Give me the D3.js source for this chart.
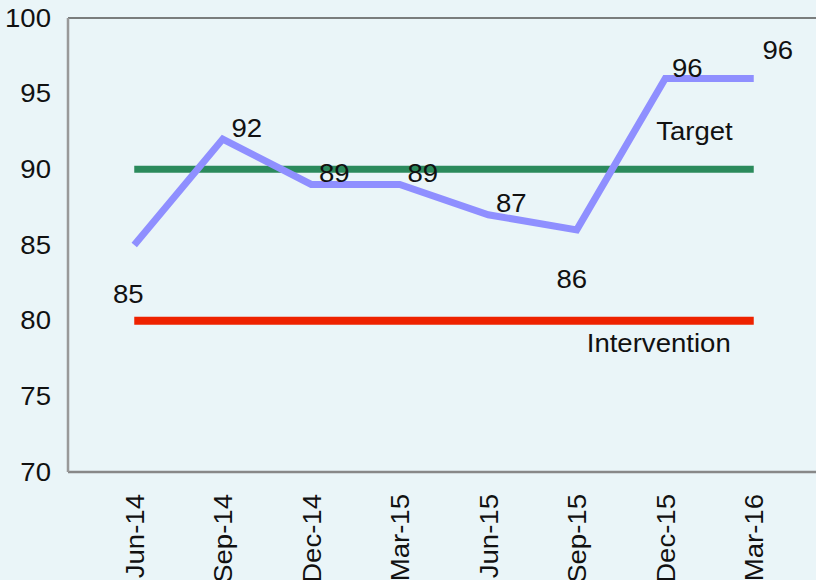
<!DOCTYPE html>
<html>
<head>
<meta charset="utf-8">
<script src="https://cdn.jsdelivr.net/npm/d3@7"></script>
<style>
  body { margin: 0; background: #eaf5f8; }
  svg { display: block; font-family: "Liberation Sans", Arial, sans-serif; }
</style>
</head>
<body>
<script>
// data
let quarters = ['Jun-14','Sep-14','Dec-14','Mar-15','Jun-15','Sep-15','Dec-15','Mar-16'];
let scores = [85, 92, 89, 89, 87, 86, 96, 96];
let targetValue = 90;
let interventionValue = 80;
let yTicks = [70, 75, 80, 85, 90, 95, 100];

// where each value label sits relative to its point (the source placed them by hand)
let labelOffsets = [[-6,58],[24,-2],[23,-2],[23,-2],[23,-3],[-5,58],[22,-2],[24,-20]];

let w = 816, h = 580;
let plotLeft = 68, plotTop = 18, plotBottom = 472;

let svg = d3.select('body')
    .append('svg')
    .attr('width', w)
    .attr('height', h)

svg.append('rect')
    .attr('width', w)
    .attr('height', h)
    .attr('fill', '#eaf5f8')

let x = d3.scalePoint()
    .domain(quarters)
    .range([90, 798])
    .padding(0.5)

let y = d3.scaleLinear()
    .domain([70, 100])
    .range([plotBottom, plotTop])

// frame
svg.append('line')
    .attr('x1', plotLeft).attr('x2', w)
    .attr('y1', plotTop).attr('y2', plotTop)
    .attr('stroke', '#555').attr('stroke-width', 1.5)

svg.append('line')
    .attr('x1', plotLeft).attr('x2', w)
    .attr('y1', plotBottom).attr('y2', plotBottom)
    .attr('stroke', '#888').attr('stroke-width', 2.5)

svg.append('line')
    .attr('x1', plotLeft).attr('x2', plotLeft)
    .attr('y1', plotTop).attr('y2', plotBottom)
    .attr('stroke', '#999').attr('stroke-width', 2.5)

// y axis
let yAxis = svg.append('g')
    .attr('transform', `translate(${plotLeft},0)`)
    .call(d3.axisLeft(y).tickValues(yTicks).tickSize(0).tickPadding(17))
yAxis.select('.domain').remove()
yAxis.selectAll('text')
    .attr('font-size', 26)
    .attr('font-family', '"Liberation Sans", Arial, sans-serif')
    .attr('fill', '#111')

// x axis, rotated labels
let xAxis = svg.append('g')
    .attr('transform', `translate(0,${plotBottom})`)
    .call(d3.axisBottom(x).tickSize(0))
xAxis.select('.domain').remove()
xAxis.selectAll('text')
    .attr('font-size', 26)
    .attr('font-family', '"Liberation Sans", Arial, sans-serif')
    .attr('fill', '#111')
    .attr('transform', 'rotate(-90)')
    .attr('text-anchor', 'end')
    .attr('x', -22)
    .attr('y', 0)
    .attr('dy', '0.35em')

let first = quarters[0], last = quarters[quarters.length - 1];

// target line
svg.append('line')
    .attr('x1', x(first)).attr('x2', x(last))
    .attr('y1', y(targetValue)).attr('y2', y(targetValue))
    .attr('stroke', '#2b8a5c').attr('stroke-width', 7)

svg.append('text')
    .text('Target')
    .attr('x', x(last) - 21)
    .attr('y', y(targetValue) - 29)
    .attr('text-anchor', 'end')
    .attr('font-size', 26)
    .attr('fill', '#111')

// intervention line
svg.append('line')
    .attr('x1', x(first)).attr('x2', x(last))
    .attr('y1', y(interventionValue)).attr('y2', y(interventionValue))
    .attr('stroke', '#ee2200').attr('stroke-width', 8)

svg.append('text')
    .text('Intervention')
    .attr('x', x(last) - 23)
    .attr('y', y(interventionValue) + 31)
    .attr('text-anchor', 'end')
    .attr('font-size', 26)
    .attr('fill', '#111')

// score line
let line = d3.line()
    .x((d, i) => x(quarters[i]))
    .y(d => y(d))

svg.append('path')
    .datum(scores)
    .attr('d', line)
    .attr('fill', 'none')
    .attr('stroke', '#8f8fff')
    .attr('stroke-width', 7)
    .attr('stroke-linejoin', 'miter')

svg.selectAll('.val')
    .data(scores)
    .enter()
    .append('text')
    .attr('class', 'val')
    .text(d => d)
    .attr('x', (d, i) => x(quarters[i]) + labelOffsets[i][0])
    .attr('y', (d, i) => y(d) + labelOffsets[i][1])
    .attr('text-anchor', 'middle')
    .attr('font-size', 26)
    .attr('fill', '#111')

// the source font runs a little wider than Liberation Sans
svg.selectAll('text').each(function() {
    let len = this.getComputedTextLength();
    d3.select(this)
        .attr('textLength', len * 1.06)
        .attr('lengthAdjust', 'spacingAndGlyphs')
})
</script>
</body>
</html>
